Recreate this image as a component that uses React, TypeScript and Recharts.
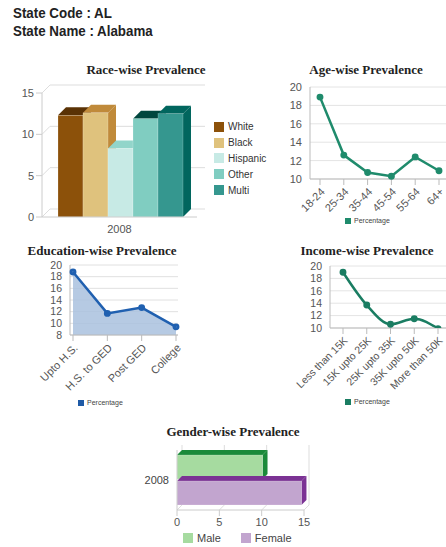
import React from 'react';
import { BarChart, Bar, LineChart, Line, AreaChart, Area, XAxis, YAxis, CartesianGrid } from 'recharts';

// race-wise
const raceYear = ['2008'];
const raceGroups = ['White', 'Black', 'Hispanic', 'Other', 'Multi'];
const raceValues = [12.3, 12.6, 8.3, 11.9, 12.5];
const raceTicks = [0, 5, 10, 15];
const raceFront = ['#8c510a', '#dfc27d', '#c7eae5', '#80cdc1', '#35978f'];
const raceDark = ['#5a3205', '#c08a3a', '#92d5ca', '#01463e', '#01665e'];

// age-wise
const ageGroups = ['18-24', '25-34', '35-44', '45-54', '55-64', '64+'];
const ageValues = [18.9, 12.6, 10.7, 10.3, 12.4, 10.9];
const ageTicks = [10, 12, 14, 16, 18, 20];

// education-wise
const eduGroups = ['Upto H.S.', 'H.S. to GED', 'Post GED', 'College'];
const eduValues = [18.8, 11.7, 12.7, 9.4];
const eduTicks = [8, 10, 12, 14, 16, 18, 20];

// income-wise
const incomeGroups = ['Less than 15K', '15K upto 25K', '25K upto 35K', '35K upto 50K', 'More than 50K'];
const incomeValues = [19.0, 13.7, 10.6, 11.5, 9.9];
const incomeTicks = [10, 12, 14, 16, 18, 20];

// gender-wise
const genderYear = ['2008'];
const genderGroups = ['Male', 'Female'];
const genderValues = [10.1, 14.7];
const genderTicks = [0, 5, 10, 15];
const genderFront = ['#a6dba0', '#c2a5cf'];
const genderDark = ['#1b8a3a', '#7b3294'];

const raceData = raceYear.map(year => {
  const row: any = { year };
  raceGroups.forEach((g, i) => { row[g] = raceValues[i]; });
  return row;
});
const ageData = ageGroups.map((name, i) => ({ name, Percentage: ageValues[i] }));
const eduData = eduGroups.map((name, i) => ({ name, Percentage: eduValues[i] }));
const incomeData = incomeGroups.map((name, i) => ({ name, Percentage: incomeValues[i] }));
const genderData = genderYear.map(year => {
  const row: any = { year };
  genderGroups.forEach((g, i) => { row[g] = genderValues[i]; });
  return row;
});

const SANS = '"Liberation Sans", Arial, sans-serif';
const tickStyle = { fontSize: 11, fill: '#555', fontFamily: SANS };
const smallTick = { fontSize: 10.5, fill: '#555', fontFamily: SANS };

const make3D = (front: string, dark: string, d: number) => (props: any) => {
  const { x, y, width, height } = props;
  if (!width || !height) return <g />;
  return (
    <g>
      <polygon points={`${x},${y} ${x + d},${y - d} ${x + width + d},${y - d} ${x + width},${y}`} fill={dark} />
      <polygon points={`${x + width},${y} ${x + width + d},${y - d} ${x + width + d},${y + height - d} ${x + width},${y + height}`} fill={dark} />
      <rect x={x} y={y} width={width} height={height} fill={front} stroke="#fff" strokeOpacity={0.4} strokeWidth={0.5} />
    </g>
  );
};

const Title = ({ text, cx, cy }: { text: string; cx: number; cy: number }) => (
  <div style={{
    position: 'absolute', left: cx - 100, top: cy - 9, width: 200, textAlign: 'center',
    fontFamily: '"Liberation Serif", "Times New Roman", serif', fontWeight: 'bold', fontSize: 13, color: '#222', lineHeight: '18px',
  }}>{text}</div>
);

const SmallLegend = ({ x, y, color }: { x: number; y: number; color: string }) => (
  <div style={{ position: 'absolute', left: x, top: y - 5, display: 'flex', alignItems: 'center', fontFamily: SANS, fontSize: 7, color: '#444', lineHeight: '10px' }}>
    <span style={{ width: 6, height: 6, background: color, display: 'inline-block', marginRight: 3 }} />
    Percentage
  </div>
);

const App = () => {
  return (
    <div style={{ position: 'absolute', left: 0, top: 0, width: 446, height: 547, background: '#fff', fontFamily: SANS }}>
      <div style={{ position: 'absolute', left: 13, top: 4, fontFamily: SANS, fontWeight: 'bold', fontSize: 15, lineHeight: '18px', color: '#222', transform: 'scaleX(0.89)', transformOrigin: 'left top', whiteSpace: 'nowrap' }}>
        <div>State Code : AL</div>
        <div>State Name : Alabama</div>
      </div>

      {/* Race */}
      <Title text="Race-wise Prevalence" cx={146} cy={70} />
      <div style={{ position: 'absolute', left: 0, top: 80 }}>
        <BarChart width={215} height={160} data={raceData} margin={{ top: 13, right: 18, bottom: 3, left: 0 }} barCategoryGap={16} barGap={0}>
          <CartesianGrid
            vertical={false}
            horizontal={(p: any) => (
              <path key={`h-${p.index}-${p.y1}`} d={`M${p.x1},${p.y1} L${p.x1 + 8},${p.y1 - 8} L${p.x2 + 8},${p.y1 - 8}`} stroke="#ddd" fill="none" />
            )}
          />
          <XAxis dataKey="year" height={20} tick={tickStyle} stroke="#ccc" tickLine={false} />
          <YAxis width={42} domain={[0, 15]} ticks={raceTicks} interval={0} tick={tickStyle} stroke="#ccc" />
          {raceGroups.map((g, i) => (
            <Bar key={g} dataKey={g} isAnimationActive={false} shape={make3D(raceFront[i], raceDark[i], 8)} />
          ))}
        </BarChart>
      </div>
      <div style={{ position: 'absolute', left: 214, top: 119, fontFamily: SANS, fontSize: 10, color: '#333' }}>
        {raceGroups.map((g, i) => (
          <div key={g} style={{ display: 'flex', alignItems: 'center', height: 15.8 }}>
            <span style={{ width: 10, height: 10, background: raceFront[i], display: 'inline-block', marginRight: 4 }} />
            {g}
          </div>
        ))}
      </div>

      {/* Age */}
      <Title text="Age-wise Prevalence" cx={366} cy={70} />
      <div style={{ position: 'absolute', left: 250, top: 75 }}>
        <LineChart width={196} height={150} data={ageData} margin={{ top: 12, right: 0, bottom: 0, left: 0 }}>
          <CartesianGrid vertical={false} stroke="#e4e4e4" />
          <XAxis dataKey="name" height={46} padding={{ left: 10, right: 7 }} interval={0} angle={-45} textAnchor="end" tick={tickStyle} stroke="#bbb" />
          <YAxis width={60} domain={[10, 20]} ticks={ageTicks} interval={0} tick={tickStyle} stroke="#bbb" tickLine={false} />
          <Line type="linear" dataKey="Percentage" stroke="#1f8b6c" strokeWidth={2.5} dot={{ r: 2.2, fill: '#1f8b6c', stroke: '#1f8b6c' }} isAnimationActive={false} />
        </LineChart>
      </div>
      <SmallLegend x={345} y={221} color="#1f8b6c" />

      {/* Education */}
      <Title text="Education-wise Prevalence" cx={102} cy={251} />
      <div style={{ position: 'absolute', left: 10, top: 255 }}>
        <AreaChart width={182} height={150} data={eduData} margin={{ top: 10, right: 14, bottom: 0, left: 0 }}>
          <CartesianGrid vertical={false} stroke="#e0e0e0" />
          <XAxis dataKey="name" height={70} padding={{ left: 3, right: 2 }} interval={0} angle={-45} textAnchor="end" tick={tickStyle} stroke="#bbb" />
          <YAxis width={60} domain={[8, 20]} ticks={eduTicks} interval={0} tick={smallTick} stroke="#bbb" tickLine={false} />
          <Area type="linear" dataKey="Percentage" stroke="#2060b0" strokeWidth={2.5} fill="#a9c1de" fillOpacity={0.85} dot={{ r: 2.2, fill: '#2060b0', stroke: '#2060b0' }} isAnimationActive={false} />
        </AreaChart>
      </div>
      <SmallLegend x={78} y={403} color="#1f5aa6" />

      {/* Income */}
      <Title text="Income-wise Prevalence" cx={367} cy={251} />
      <div style={{ position: 'absolute', left: 260, top: 256 }}>
        <LineChart width={186} height={150} data={incomeData} margin={{ top: 10, right: 0, bottom: 0, left: 0 }}>
          <CartesianGrid vertical={false} stroke="#e4e4e4" />
          <XAxis dataKey="name" height={78} padding={{ left: 13, right: 8 }} interval={0} angle={-45} textAnchor="end" tick={smallTick} stroke="#bbb" />
          <YAxis width={70} domain={[10, 20]} ticks={incomeTicks} interval={0} tick={smallTick} stroke="#bbb" tickLine={false} allowDataOverflow />
          <Line type="monotone" dataKey="Percentage" stroke="#1a7d62" strokeWidth={2.5} dot={{ r: 2.2, fill: '#1a7d62', stroke: '#1a7d62' }} isAnimationActive={false} />
        </LineChart>
      </div>
      <SmallLegend x={345} y={402} color="#1a7d62" />

      {/* Gender */}
      <Title text="Gender-wise Prevalence" cx={233} cy={432} />
      <div style={{ position: 'absolute', left: 110, top: 440 }}>
        <BarChart width={210} height={100} data={genderData} layout="vertical" margin={{ top: 10, right: 16, bottom: 10, left: 0 }} barCategoryGap={5} barGap={2}>
          <CartesianGrid
            horizontal={false}
            vertical={(p: any) => (
              <path key={`v-${p.index}-${p.x1}`} d={`M${p.x1},${p.y2} L${p.x1 + 5},${p.y2 - 5} L${p.x1 + 5},${p.y1 - 5}`} stroke="#ddd" fill="none" />
            )}
          />
          <XAxis type="number" domain={[0, 15]} ticks={genderTicks} interval={0} height={20} tick={tickStyle} stroke="#ccc" />
          <YAxis type="category" dataKey="year" width={67} tick={{ ...tickStyle, fill: '#444' }} stroke="#ccc" tickLine={false} />
          {genderGroups.map((g, i) => (
            <Bar key={g} dataKey={g} isAnimationActive={false} shape={make3D(genderFront[i], genderDark[i], 5)} />
          ))}
        </BarChart>
      </div>
      <div style={{ position: 'absolute', left: 183, top: 532, display: 'flex', fontFamily: SANS, fontSize: 11, color: '#444', lineHeight: '12px' }}>
        {genderGroups.map((g, i) => (
          <div key={g} style={{ display: 'flex', alignItems: 'center', marginRight: 20 }}>
            <span style={{ width: 10, height: 10, background: genderFront[i], display: 'inline-block', marginRight: 4 }} />
            {g}
          </div>
        ))}
      </div>
    </div>
  );
};

export default App;
